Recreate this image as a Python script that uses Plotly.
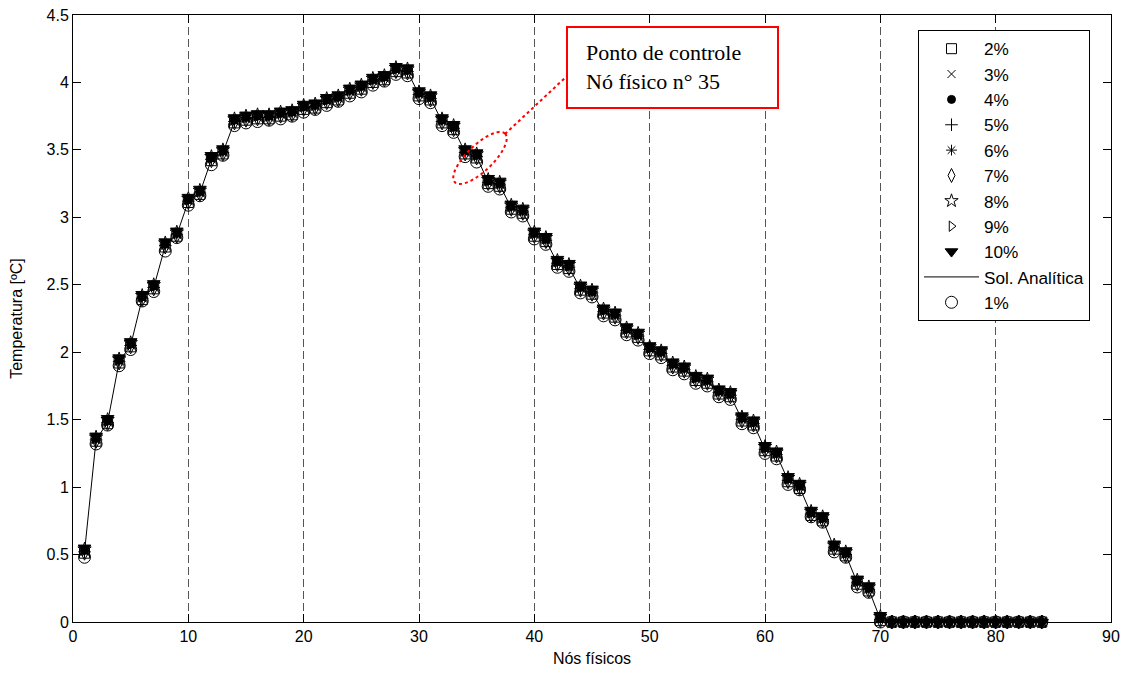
import numpy as np
import plotly.graph_objects as go

# ---------------- data ----------------
nos = list(range(1, 85))

sol_analitica = [0.52,1.35,1.48,1.93,2.05,2.40,2.48,2.79,2.87,3.12,3.18,3.43,3.48,3.71,3.73,3.74,3.74,3.76,3.77,3.81,
                 3.82,3.86,3.88,3.93,3.96,4.01,4.03,4.09,4.08,3.91,3.88,3.71,3.66,3.48,3.45,3.26,3.24,3.07,3.04,2.87,
                 2.83,2.66,2.63,2.47,2.44,2.30,2.27,2.16,2.12,2.02,1.99,1.90,1.87,1.80,1.78,1.70,1.68,1.50,1.47,1.28,
                 1.24,1.05,1.00,0.80,0.76,0.55,0.50,0.29,0.24,0.02,0,0,0,0,0,0,0,0,0,0,0,0,0,0]

pct01 = [0.48,1.32,1.46,1.90,2.02,2.38,2.45,2.75,2.85,3.09,3.16,3.39,3.46,3.68,3.70,3.71,3.72,3.73,3.75,3.78,
         3.80,3.83,3.86,3.90,3.93,3.98,4.01,4.06,4.05,3.88,3.85,3.68,3.63,3.45,3.41,3.23,3.21,3.04,3.01,2.84,
         2.80,2.63,2.60,2.44,2.41,2.27,2.24,2.13,2.09,1.99,1.96,1.87,1.84,1.77,1.75,1.67,1.65,1.47,1.44,1.25,
         1.21,1.02,0.98,0.78,0.74,0.52,0.48,0.26,0.22,0.00,0,0,0,0,0,0,0,0,0,0,0,0,0,0]

pct02 = [0.51,1.34,1.47,1.92,2.04,2.39,2.47,2.78,2.86,3.11,3.17,3.42,3.47,3.70,3.72,3.73,3.73,3.75,3.76,3.80,
         3.81,3.85,3.87,3.92,3.95,4.00,4.02,4.08,4.07,3.90,3.87,3.70,3.65,3.47,3.44,3.25,3.23,3.06,3.03,2.86,
         2.82,2.65,2.62,2.46,2.43,2.29,2.26,2.15,2.11,2.01,1.98,1.89,1.86,1.79,1.77,1.69,1.67,1.49,1.46,1.27,
         1.23,1.04,0.99,0.79,0.75,0.54,0.49,0.28,0.23,0.01,0,0,0,0,0,0,0,0,0,0,0,0,0,0]

pct03 = [0.52,1.35,1.48,1.93,2.05,2.40,2.48,2.79,2.87,3.12,3.18,3.43,3.48,3.71,3.73,3.74,3.74,3.76,3.77,3.81,
         3.82,3.86,3.88,3.93,3.96,4.01,4.03,4.09,4.08,3.91,3.88,3.71,3.66,3.48,3.45,3.26,3.24,3.07,3.04,2.87,
         2.83,2.66,2.63,2.47,2.44,2.30,2.27,2.16,2.12,2.02,1.99,1.90,1.87,1.80,1.78,1.70,1.68,1.50,1.47,1.28,
         1.24,1.05,1.00,0.80,0.76,0.55,0.50,0.29,0.24,0.02,0,0,0,0,0,0,0,0,0,0,0,0,0,0]

pct04 = [0.53,1.36,1.49,1.94,2.06,2.41,2.49,2.80,2.88,3.13,3.19,3.44,3.49,3.72,3.74,3.75,3.75,3.77,3.78,3.82,
         3.83,3.87,3.89,3.94,3.97,4.02,4.04,4.10,4.09,3.92,3.89,3.72,3.67,3.49,3.46,3.27,3.25,3.08,3.05,2.88,
         2.84,2.67,2.64,2.48,2.45,2.31,2.28,2.17,2.13,2.03,2.00,1.91,1.88,1.81,1.79,1.71,1.69,1.51,1.48,1.29,
         1.25,1.06,1.01,0.81,0.77,0.56,0.51,0.30,0.25,0.03,0,0,0,0,0,0,0,0,0,0,0,0,0,0]

pct05 = [0.52,1.35,1.48,1.93,2.05,2.40,2.48,2.79,2.87,3.12,3.18,3.43,3.48,3.71,3.73,3.74,3.74,3.76,3.77,3.81,
         3.82,3.86,3.88,3.93,3.96,4.01,4.03,4.09,4.08,3.91,3.88,3.71,3.66,3.48,3.45,3.26,3.24,3.07,3.04,2.87,
         2.83,2.66,2.63,2.47,2.44,2.30,2.27,2.16,2.12,2.02,1.99,1.90,1.87,1.80,1.78,1.70,1.68,1.50,1.47,1.28,
         1.24,1.05,1.00,0.80,0.76,0.55,0.50,0.29,0.24,0.02,0,0,0,0,0,0,0,0,0,0,0,0,0,0]

pct06 = [0.53,1.36,1.49,1.94,2.06,2.41,2.49,2.80,2.88,3.13,3.19,3.44,3.49,3.72,3.74,3.75,3.75,3.77,3.78,3.82,
         3.83,3.87,3.89,3.94,3.97,4.02,4.04,4.10,4.09,3.92,3.89,3.72,3.67,3.49,3.46,3.27,3.25,3.08,3.05,2.88,
         2.84,2.67,2.64,2.48,2.45,2.31,2.28,2.17,2.13,2.03,2.00,1.91,1.88,1.81,1.79,1.71,1.69,1.51,1.48,1.29,
         1.25,1.06,1.01,0.81,0.77,0.56,0.51,0.30,0.25,0.03,0,0,0,0,0,0,0,0,0,0,0,0,0,0]

pct07 = [0.51,1.34,1.47,1.92,2.04,2.39,2.47,2.78,2.86,3.11,3.17,3.42,3.47,3.70,3.72,3.73,3.73,3.75,3.76,3.80,
         3.81,3.85,3.87,3.92,3.95,4.00,4.02,4.08,4.07,3.90,3.87,3.70,3.65,3.47,3.44,3.25,3.23,3.06,3.03,2.86,
         2.82,2.65,2.62,2.46,2.43,2.29,2.26,2.15,2.11,2.01,1.98,1.89,1.86,1.79,1.77,1.69,1.67,1.49,1.46,1.27,
         1.23,1.04,0.99,0.79,0.75,0.54,0.49,0.28,0.23,0.01,0,0,0,0,0,0,0,0,0,0,0,0,0,0]

pct08 = [0.54,1.37,1.50,1.95,2.07,2.42,2.50,2.81,2.89,3.14,3.20,3.45,3.50,3.73,3.75,3.76,3.76,3.78,3.79,3.83,
         3.84,3.88,3.90,3.95,3.98,4.03,4.05,4.11,4.10,3.93,3.90,3.73,3.68,3.50,3.47,3.28,3.26,3.09,3.06,2.89,
         2.85,2.68,2.65,2.49,2.46,2.32,2.29,2.18,2.14,2.04,2.01,1.92,1.89,1.82,1.80,1.72,1.70,1.52,1.49,1.30,
         1.26,1.07,1.02,0.82,0.78,0.57,0.52,0.31,0.26,0.04,0,0,0,0,0,0,0,0,0,0,0,0,0,0]

pct09 = [0.53,1.36,1.49,1.94,2.06,2.41,2.49,2.80,2.88,3.13,3.19,3.44,3.49,3.72,3.74,3.75,3.75,3.77,3.78,3.82,
         3.83,3.87,3.89,3.94,3.97,4.02,4.04,4.10,4.09,3.92,3.89,3.72,3.67,3.49,3.46,3.27,3.25,3.08,3.05,2.88,
         2.84,2.67,2.64,2.48,2.45,2.31,2.28,2.17,2.13,2.03,2.00,1.91,1.88,1.81,1.79,1.71,1.69,1.51,1.48,1.29,
         1.25,1.06,1.01,0.81,0.77,0.56,0.51,0.30,0.25,0.03,0,0,0,0,0,0,0,0,0,0,0,0,0,0]

pct10 = [0.55,1.38,1.51,1.96,2.08,2.43,2.51,2.82,2.90,3.15,3.21,3.46,3.51,3.74,3.76,3.77,3.77,3.79,3.80,3.84,
         3.85,3.89,3.91,3.96,3.99,4.04,4.06,4.12,4.11,3.94,3.91,3.74,3.69,3.51,3.48,3.29,3.27,3.10,3.07,2.90,
         2.86,2.69,2.66,2.50,2.47,2.33,2.30,2.19,2.15,2.05,2.02,1.93,1.90,1.83,1.81,1.73,1.71,1.53,1.50,1.31,
         1.27,1.08,1.03,0.83,0.79,0.58,0.53,0.32,0.27,0.05,0,0,0,0,0,0,0,0,0,0,0,0,0,0]

x_ticks = [0, 10, 20, 30, 40, 50, 60, 70, 80, 90]
y_ticks = [0, 0.5, 1, 1.5, 2, 2.5, 3, 3.5, 4, 4.5]
y_tick_text = ["0", "0.5", "1", "1.5", "2", "2.5", "3", "3.5", "4", "4.5"]

# ---------------- figure geometry (screen pixels; page body has an 8px margin) ----------------
OFF = 8
W, H = 1112, 659
PL, PR, PT, PB = 73, 1111, 15, 622     # plot area on screen
L, T = PL - OFF, PT - OFF
R, B = (OFF + W) - PR, (OFF + H) - PB
X0, X1 = 0, 90
Y0, Y1 = 0, 4.5

def px2x(px):
    return X0 + (px - PL) / (PR - PL) * (X1 - X0)

def py2y(py):
    return Y0 + (PB - py) / (PB - PT) * (Y1 - Y0)

def px2paper(px):
    return (px - PL) / (PR - PL)

def py2paper(py):
    return (PB - py) / (PB - PT)

fig = go.Figure()

series = [
    ("2%", pct02, "square-open", 10),
    ("3%", pct03, "x-thin-open", 8),
    ("4%", pct04, "circle", 8),
    ("5%", pct05, "cross-thin-open", 9),
    ("6%", pct06, "asterisk-open", 9),
    ("7%", pct07, "diamond-tall-open", 10),
    ("8%", pct08, "star-open", 10),
    ("9%", pct09, "triangle-right-open", 9),
    ("10%", pct10, "triangle-down", 11),
]

for name, vals, sym, size in series:
    fig.add_trace(go.Scatter(
        x=nos, y=vals, mode="markers", name=name, cliponaxis=False,
        marker=dict(symbol=sym, size=size, color="black",
                    line=dict(color="black", width=1)),
    ))

fig.add_trace(go.Scatter(
    x=nos, y=sol_analitica, mode="lines", name="Sol. Analítica", cliponaxis=False,
    line=dict(color="black", width=1),
))

fig.add_trace(go.Scatter(
    x=nos, y=pct01, mode="markers", name="1%", cliponaxis=False,
    marker=dict(symbol="circle-open", size=12, color="black",
                line=dict(color="black", width=1)),
))

# annotation: red box + text
fig.add_shape(type="rect", xref="paper", yref="paper",
              x0=px2paper(567), x1=px2paper(778), y0=py2paper(108), y1=py2paper(27),
              line=dict(color="red", width=2), fillcolor="white", layer="above")
fig.add_annotation(xref="paper", yref="paper", x=px2paper(584), y=py2paper(67),
                   xanchor="left", yanchor="middle", align="left", showarrow=False,
                   text="Ponto de controle<br>Nó físico n° 35",
                   font=dict(family="Liberation Serif, Times New Roman, serif", size=22, color="black"))

# dotted ellipse around control node
cx, cy, a, b, ang = 480, 158, 35, 13, np.deg2rad(44)
t = np.linspace(0, 2 * np.pi, 60)
ex = cx + a * np.cos(t) * np.cos(ang) - b * np.sin(t) * np.sin(ang)
ey = cy - (a * np.cos(t) * np.sin(ang) + b * np.sin(t) * np.cos(ang))
path = "M " + " L ".join(f"{px2x(u):.4f},{py2y(v):.4f}" for u, v in zip(ex, ey)) + " Z"
fig.add_shape(type="path", xref="x", yref="y", path=path,
              line=dict(color="red", width=2, dash="dot"), layer="above")
fig.add_shape(type="line", xref="x", yref="y",
              x0=px2x(505), y0=py2y(134), x1=px2x(567), y1=py2y(76),
              line=dict(color="red", width=2, dash="dot"), layer="above")

axis_font = dict(family="Liberation Sans, Arial, sans-serif", size=16, color="black")

fig.update_layout(
    width=W, height=H,
    margin=dict(l=L, r=R, t=T, b=B, autoexpand=False),
    paper_bgcolor="white", plot_bgcolor="white",
    font=axis_font,
    showlegend=True,
    legend=dict(
        x=px2paper(1090), y=py2paper(30), xanchor="right", yanchor="top",
        bgcolor="white", bordercolor="black", borderwidth=1,
        font=dict(family="Liberation Sans, Arial, sans-serif", size=17.2, color="black"),
        traceorder="normal", itemwidth=55,
    ),
    xaxis=dict(
        range=[X0, X1], tickmode="array", tickvals=x_ticks, automargin=False,
        ticks="inside", ticklen=8, tickcolor="black", ticklabeloverflow="allow",
        showline=True, linecolor="black", linewidth=1, mirror="ticks",
        showgrid=True, gridcolor="#555555", gridwidth=1, griddash="8px,4px",
        zeroline=False, tickfont=axis_font,
        title=dict(text="Nós físicos", font=axis_font, standoff=10),
    ),
    yaxis=dict(
        range=[Y0, Y1], tickmode="array", tickvals=y_ticks, ticktext=y_tick_text, automargin=False,
        ticks="inside", ticklen=8, tickcolor="black", ticklabeloverflow="allow",
        showline=True, linecolor="black", linewidth=1, mirror="ticks",
        showgrid=False, zeroline=False, tickfont=axis_font,
        title=dict(text="Temperatura [ºC]", font=axis_font, standoff=19),
    ),
)

fig.write_html("out.html")
